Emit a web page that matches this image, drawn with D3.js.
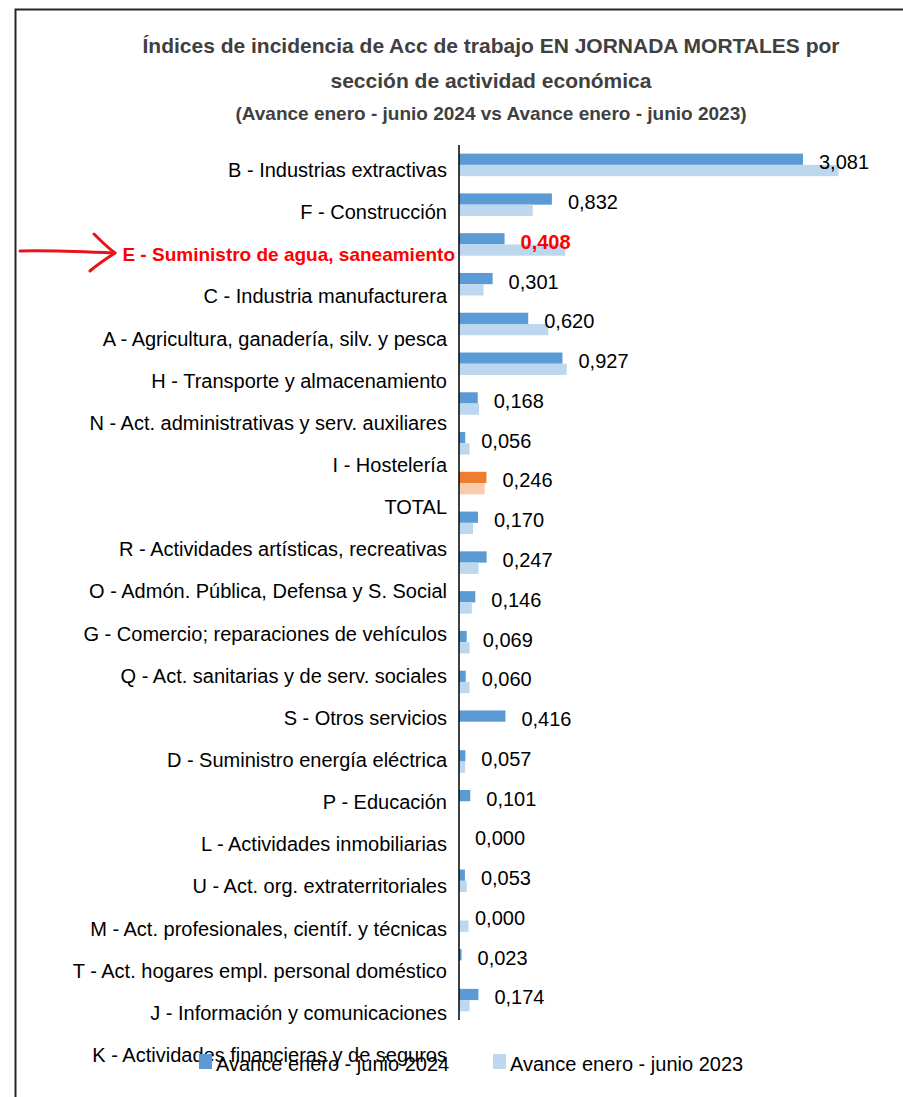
<html>
<head>
<meta charset="utf-8">
<style>
  body { margin: 0; background: #fff; }
  text { font-family: "Liberation Sans", Arial, sans-serif; }
</style>
</head>
<body>
<script src="https://cdn.jsdelivr.net/npm/d3@7"></script>
<script>

// data (2024 values are the printed labels, 2023)
var categories = ["B - Industrias extractivas", "F - Construcción", "E - Suministro de agua, saneamiento",
  "C - Industria manufacturera", "A - Agricultura, ganadería, silv. y pesca", "H - Transporte y almacenamiento",
  "N - Act. administrativas y serv. auxiliares", "I - Hostelería", "TOTAL",
  "R - Actividades artísticas, recreativas", "O - Admón. Pública, Defensa y S. Social",
  "G - Comercio; reparaciones de vehículos", "Q - Act. sanitarias y de serv. sociales", "S - Otros servicios",
  "D - Suministro energía eléctrica", "P - Educación", "L - Actividades inmobiliarias",
  "U - Act. org. extraterritoriales", "M - Act. profesionales, científ. y técnicas",
  "T - Act. hogares empl. personal doméstico", "J - Información y comunicaciones",
  "K - Actividades financieras y de seguros"];

var v2024 = [3.081, 0.832, 0.408, 0.301, 0.620, 0.927, 0.168, 0.056, 0.246, 0.170, 0.247,
  0.146, 0.069, 0.060, 0.416, 0.057, 0.101, 0.000, 0.053, 0.000, 0.023, 0.174];
var v2023 = [3.40, 0.66, 0.95, 0.22, 0.80, 0.965, 0.18, 0.095, 0.23, 0.125, 0.175,
  0.115, 0.095, 0.095, 0, 0.055, 0, 0, 0.07, 0.085, 0, 0.095];

var keys = ["Avance enero - junio 2024", "Avance enero - junio 2023"];
var highlight = "E - Suministro de agua, saneamiento";
var total = "TOTAL";

var titleLines = ["Índices de incidencia de Acc de trabajo EN JORNADA MORTALES por",
  "sección de actividad económica"];
var subtitle = "(Avance enero - junio 2024 vs Avance enero - junio 2023)";

var W = 903, H = 1097;
var axisX = 459;

var svg = d3.select("body").append("svg")
    .attr("width", W)
    .attr("height", H);

// chart frame (runs off the right and bottom edge)
svg.append("rect")
    .attr("x", 15.5).attr("y", 9.5)
    .attr("width", W + 20).attr("height", H + 20)
    .attr("fill", "none")
    .attr("stroke", "#262626")
    .attr("stroke-width", 2);

// titles
svg.append("g").selectAll("text")
    .data(titleLines)
  .enter().append("text")
    .attr("x", 491)
    .attr("y", function(d, i) { return 53 + i * 35; })
    .attr("text-anchor", "middle")
    .attr("font-size", 21)
    .attr("font-weight", "bold")
    .attr("fill", "#404040")
    .text(function(d) { return d; });

svg.append("text")
    .attr("x", 491).attr("y", 120)
    .attr("text-anchor", "middle")
    .attr("font-size", 19)
    .attr("font-weight", "bold")
    .attr("fill", "#404040")
    .text(subtitle);

var x = d3.scaleLinear()
    .domain([0, 3.5])
    .range([axisX, axisX + 3.5 * 111.65]);

// bars
var y = d3.scaleBand()
    .domain(categories)
    .range([145, 1020])
    .paddingInner(0.434)
    .paddingOuter(0.217);

var ySub = d3.scaleBand()
    .domain(keys)
    .range([0, y.bandwidth()]);

// category labels sit on their own (slightly wider) spacing, as in the picture
var yLab = d3.scalePoint()
    .domain(categories)
    .range([170, 1055]);

var rows = categories.map(function(c, i) {
  return { cat: c, vals: [v2024[i], v2023[i]] };
});

function barColor(cat, k) {
  if (cat === total) return k === 0 ? "#ED7D31" : "#F8CBAD";
  return k === 0 ? "#5B9BD5" : "#BDD7EE";
}

var g = svg.append("g");

var row = g.selectAll("g.row")
    .data(rows)
  .enter().append("g")
    .attr("class", "row")
    .attr("transform", function(d) { return "translate(0," + y(d.cat) + ")"; });

row.selectAll("rect")
    .data(function(d) { return d.vals.map(function(v, k) { return { cat: d.cat, key: keys[k], k: k, v: v }; }); })
  .enter().append("rect")
    .attr("x", x(0))
    .attr("y", function(d) { return ySub(d.key); })
    .attr("width", function(d) { return x(d.v) - x(0); })
    .attr("height", ySub.bandwidth())
    .attr("fill", function(d) { return barColor(d.cat, d.k); });

// value labels (2024)
var fmt = function(v) { return d3.format(".3f")(v).replace(".", ","); };

row.append("text")
    .attr("x", function(d) { return x(d.vals[0]) + 16; })
    .attr("y", ySub(keys[0]) + ySub.bandwidth() / 2 + 3)
    .attr("dy", "0.35em")
    .attr("font-size", 20)
    .attr("fill", function(d) { return d.cat === highlight ? "#FF0000" : "#000"; })
    .attr("font-weight", function(d) { return d.cat === highlight ? "bold" : null; })
    .text(function(d) { return fmt(d.vals[0]); });

// axis line
g.append("line")
    .attr("x1", axisX).attr("x2", axisX)
    .attr("y1", 145).attr("y2", 1020)
    .attr("stroke", "#000")
    .attr("stroke-width", 1.5);

// category labels
g.append("g").selectAll("text")
    .data(categories)
  .enter().append("text")
    .attr("x", function(d) { return d === highlight ? axisX - 4 : axisX - 12; })
    .attr("y", function(d) { return yLab(d); })
    .attr("dy", "0.35em")
    .attr("text-anchor", "end")
    .attr("font-size", function(d) { return d === highlight ? 19 : 20; })
    .attr("font-weight", function(d) { return d === highlight ? "bold" : null; })
    .attr("fill", function(d) { return d === highlight ? "#FF0000" : "#000"; })
    .text(function(d) { return d; });

// hand drawn red arrow pointing at the highlighted row
var arrow = svg.append("g")
    .attr("fill", "none")
    .attr("stroke", "#E8141B")
    .attr("stroke-width", 3)
    .attr("stroke-linecap", "round")
    .attr("stroke-linejoin", "round");
arrow.append("path").attr("d", "M20,251 C50,250 90,252 115,253");
arrow.append("path").attr("d", "M94,234 C102,242 108,248 115,253 C106,259 98,264 90,271");

// legend
var legend = svg.append("g").selectAll("g")
    .data(keys)
  .enter().append("g")
    .attr("transform", function(d, i) { return "translate(" + (199 + i * 294) + ",1054)"; });

legend.append("rect")
    .attr("width", 13)
    .attr("height", 15)
    .attr("fill", function(d, i) { return i === 0 ? "#5B9BD5" : "#BDD7EE"; });

legend.append("text")
    .attr("x", 17)
    .attr("y", 10)
    .attr("dy", "0.35em")
    .attr("font-size", 20)
    .attr("fill", "#000")
    .text(function(d) { return d; });

</script>
</body>
</html>
